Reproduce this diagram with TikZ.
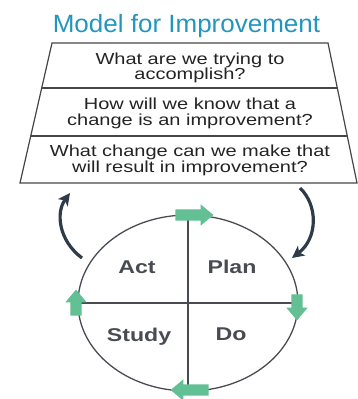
\documentclass[tikz,border=0pt]{standalone}
\usepackage{fontspec}
\setmainfont{Liberation Sans}
\newfontfamily\titlefont[FakeStretch=1.04]{Liberation Sans}
\newfontfamily\questionfont[FakeStretch=1.25]{Liberation Sans}
\newfontfamily\stagefont[FakeStretch=1.25]{Liberation Sans}
\usetikzlibrary{shapes.geometric, shapes.arrows, arrows.meta, calc}
\definecolor{titleblue}{RGB}{35,150,190}
\definecolor{pdcagreen}{RGB}{98,192,148}
\definecolor{loopslate}{RGB}{45,60,72}
\definecolor{framegray}{RGB}{70,70,70}
\definecolor{stagegray}{RGB}{72,76,82}
\definecolor{textdark}{RGB}{35,35,35}

\begin{document}
\begin{tikzpicture}[x=1pt, y=-1pt]
        % Define styles
        \tikzstyle{question} = [align=center, inner sep=0pt, text=textdark, font=\questionfont\fontsize{16}{15.5}\selectfont]
        \tikzstyle{stage} = [anchor=base, inner sep=0pt, text=stagegray, font=\stagefont\bfseries\fontsize{18.5}{20}\selectfont]
        \tikzstyle{funnel} = [draw=framegray, line width=1.2pt]
        \tikzstyle{quadrant} = [draw=stagegray, line width=1.5pt]
        \tikzstyle{cyclearrow} = [single arrow, fill=pdcagreen, draw=none, inner xsep=0pt, inner ysep=5.5pt, outer sep=0pt, single arrow head extend=5pt, single arrow tip angle=80]
        \tikzstyle{feedback} = [-{Stealth[length=12pt, width=12pt, inset=3pt]}, line width=3.2pt, loopslate]

        \useasboundingbox (0,0) rectangle (358,399);

        % Title
        \node[font=\titlefont\fontsize{25}{30}\selectfont, text=titleblue, anchor=base, inner sep=0pt] (title) at (186.5,32) {Model for Improvement};

        % Three questions - funnel layout
        \coordinate (tl) at (52,43);
        \coordinate (tr) at (328,43);
        \coordinate (bl) at (20,183);
        \coordinate (br) at (357,183);
        \draw[funnel] (tl) -- (tr) -- (br) -- (bl) -- cycle;
        \draw[funnel] ($(tl)!0.321!(bl)$) -- ($(tr)!0.321!(br)$);
        \draw[funnel] ($(tl)!0.664!(bl)$) -- ($(tr)!0.664!(br)$);

        \node[question] (aim) at (190,68) {What are we trying to\\accomplish?};
        \node[question] (measure) at (190,113.5) {How will we know that a\\change is an improvement?};
        \node[question] (change) at (190,160.5) {What change can we make that\\will result in improvement?};

        % PDSA wheel
        \node[draw=stagegray, line width=1.3pt, ellipse, minimum width=220pt, minimum height=176pt, inner sep=0pt] (wheel) at (188,303) {};
        \draw[quadrant] (wheel.north) -- (wheel.south);
        \draw[quadrant] (wheel.west) -- (wheel.east);

        \node[stage] (act) at (137,273) {Act};
        \node[stage] (plan) at (232,273) {Plan};
        \node[stage] (study) at (139,341) {Study};
        \node[stage] (do) at (231,340) {Do};

        % Green turning arrows
        \node[cyclearrow, minimum height=38pt] (toplan) at (191,215) {};
        \node[cyclearrow, minimum height=26pt, rotate=-90] (todo) at (297,304) {};
        \node[cyclearrow, minimum height=38pt, rotate=180] (tostudy) at (193,390) {};
        \node[cyclearrow, minimum height=26pt, rotate=90] (toact) at (76,306) {};

        % Feedback arrows
        \coordinate (actout) at (82,258);
        \coordinate (aimin) at (70,193);
        \draw[feedback] (actout) .. controls (58,240) and (56,212) .. (aimin);
        \coordinate (changeout) at (300,188);
        \coordinate (planin) at (292,258);
        \draw[feedback] (changeout) .. controls (318,205) and (318,238) .. (planin);

    \end{tikzpicture}
\end{document}
